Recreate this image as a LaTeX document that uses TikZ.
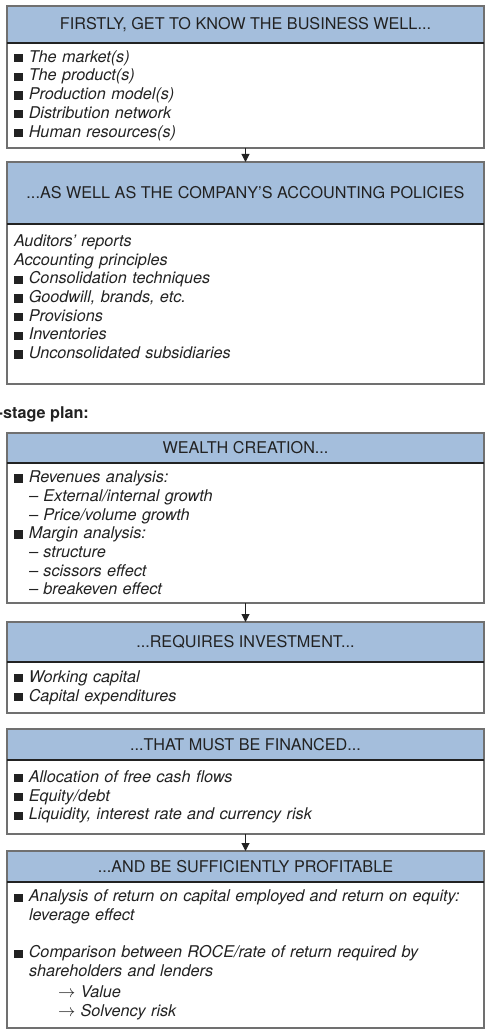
\documentclass[tikz,border=0pt]{standalone}
\usepackage{fontspec}
\setmainfont{TeX Gyre Heros}
\usetikzlibrary{positioning,arrows.meta}

\definecolor{hdrblue}{HTML}{A4BEDC}
\definecolor{boxgray}{HTML}{707070}
\definecolor{txtdark}{HTML}{222222}

\newcommand{\sqb}{{\color{txtdark}\rule{8.5pt}{8.3pt}}\hspace{6.3pt}}
\newcommand{\subdash}{\hspace*{15pt}–\ }

\tikzset{
	hdr/.style={draw=boxgray, line width=1.2pt, fill=hdrblue, outer sep=0pt,
		minimum width=477pt, inner sep=0pt, text=txtdark,
		font=\fontsize{16.2}{19}\selectfont},
	bdy/.style={draw=boxgray, line width=1.2pt, fill=white, outer sep=0pt,
		minimum width=477pt, text width=463pt, inner xsep=7pt, inner ysep=0pt,
		align=left, text=txtdark, font=\fontsize{16.2}{18.7}\selectfont\itshape},
	sepline/.style={draw=txtdark, line width=1.2pt},
	flow/.style={-{Triangle[width=8pt,length=8pt]}, line width=1pt, draw=txtdark}
}

\begin{document}
\begin{tikzpicture}[x=1pt,y=1pt]
	\useasboundingbox (0,0) rectangle (490,-1035);
	% knowing the business
	\node [hdr, anchor=north west, minimum height=37pt] (hdrA) at (7,-6) {FIRSTLY, GET TO KNOW THE BUSINESS WELL...};
	\node [bdy, below=0pt of hdrA, minimum height=105pt] (bdyA) {\sqb The market(s)\\ \sqb The product(s)\\ \sqb Production model(s)\\ \sqb Distribution network\\ \sqb Human resources(s)};
	\draw [sepline] (bdyA.north west) -- (bdyA.north east);
	\node [hdr, below=14pt of bdyA, minimum height=62pt] (hdrB) {...AS WELL AS THE COMPANY’S ACCOUNTING POLICIES};
	\node [bdy, below=0pt of hdrB, minimum height=160pt] (bdyB) {Auditors’ reports\\ Accounting principles\\ \sqb Consolidation techniques\\ \sqb Goodwill, brands, etc.\\ \sqb Provisions\\ \sqb Inventories\\ \sqb Unconsolidated subsidiaries\\[-4pt]\mbox{}};
	\draw [sepline] (bdyB.north west) -- (bdyB.north east);
	\draw [flow] (bdyA.south) -- (hdrB.north);
	% plan
	\node [anchor=base west, inner sep=0pt, text=txtdark, font=\fontsize{16.2}{19}\selectfont\bfseries] (plan) at (-2.5,-418) {-stage plan:};
	\node [hdr, below=49pt of bdyB, minimum height=30pt] (hdrC) {WEALTH CREATION...};
	\node [bdy, below=0pt of hdrC, minimum height=140pt] (bdyC) {\sqb Revenues analysis:\\ \subdash External/internal growth\\ \subdash Price/volume growth\\ \sqb Margin analysis:\\ \subdash structure\\ \subdash scissors effect\\ \subdash breakeven effect};
	\draw [sepline] (bdyC.north west) -- (bdyC.north east);
	\node [hdr, below=19pt of bdyC, minimum height=40pt] (hdrD) {...REQUIRES INVESTMENT...};
	\node [bdy, below=0pt of hdrD, minimum height=51pt] (bdyD) {\sqb Working capital\\ \sqb Capital expenditures};
	\draw [sepline] (bdyD.north west) -- (bdyD.north east);
	\draw [flow] (bdyC.south) -- (hdrD.north);
	\node [hdr, below=16pt of bdyD, minimum height=31pt] (hdrE) {...THAT MUST BE FINANCED...};
	\node [bdy, below=0pt of hdrE, minimum height=74pt] (bdyE) {\sqb Allocation of free cash flows\\ \sqb Equity/debt\\ \sqb Liquidity, interest rate and currency risk};
	\draw [sepline] (bdyE.north west) -- (bdyE.north east);
	\node [hdr, below=17pt of bdyE, minimum height=31pt] (hdrF) {...AND BE SUFFICIENTLY PROFITABLE};
	\node [bdy, below=0pt of hdrF, minimum height=146pt] (bdyF) {\sqb Analysis of return on capital employed and return on equity:\\ \hspace*{15pt}leverage effect\\[18.7pt] \sqb Comparison between ROCE/rate of return required by\\ \hspace*{15pt}shareholders and lenders\\[2.5pt] \hspace*{44pt}$\rightarrow$ Value\\ \hspace*{44pt}$\rightarrow$ Solvency risk};
	\draw [sepline] (bdyF.north west) -- (bdyF.north east);
	\draw [flow] (bdyE.south) -- (hdrF.north);
\end{tikzpicture}
\end{document}
